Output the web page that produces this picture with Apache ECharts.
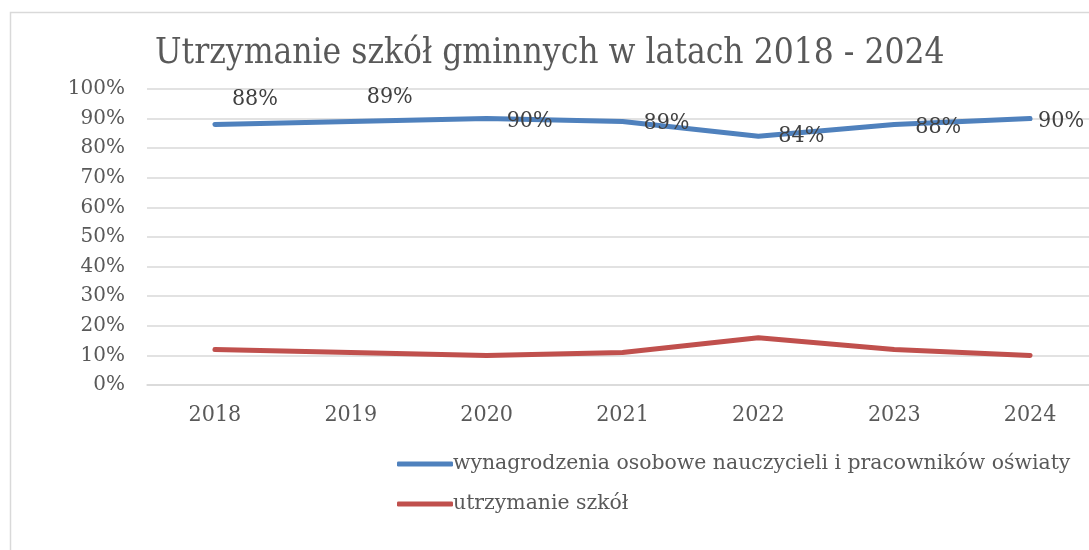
<!DOCTYPE html>
<html>
<head>
<meta charset="utf-8">
<script src="https://cdn.jsdelivr.net/npm/echarts@6/dist/echarts.min.js"></script>
<style>
html,body{margin:0;padding:0;background:#fff;overflow:hidden;width:1089px;height:550px;}
#chart{width:1100px;height:550px;}
</style>
</head>
<body>
<div id="chart"></div>
<script>
// ---- data ----
const categories = ['2018', '2019', '2020', '2021', '2022', '2023', '2024'];
const salaries = [0.88, 0.89, 0.90, 0.89, 0.84, 0.88, 0.90];
const maintenance = [0.12, 0.11, 0.10, 0.11, 0.16, 0.12, 0.10];
const seriesNames = ['wynagrodzenia osobowe nauczycieli i pracowników oświaty', 'utrzymanie szkół'];
const titleText = 'Utrzymanie szkół gminnych w latach 2018 - 2024';

// ---- style (label offsets per point, pixels) ----
const labelOffsets = [[40, -25], [39, -25], [43, 2], [44, 1], [43, 0], [44, 3], [31, 2]];
const FONT = 'DejaVu Serif';
const FONTC = '"DejaVu Serif Condensed", "DejaVu Serif"';
const TXT = '#595959';

const chart = echarts.init(document.getElementById('chart'), null, {renderer: 'canvas'});
const pct = v => Math.round(v * 100) + '%';

chart.setOption({
  backgroundColor: '#fff',
  animation: false,
  graphic: [{
    type: 'rect', left: 8, top: 10, silent: true,
    shape: {width: 1200, height: 700},
    style: {fill: 'none', stroke: '#d9d9d9', lineWidth: 1.5}
  }],
  title: {
    text: titleText, left: 150, top: 31,
    textStyle: {fontFamily: FONTC, fontWeight: 'normal', fontSize: 35, color: TXT}
  },
  grid: {left: 147, top: 89, right: 2, bottom: 165},
  legend: {
    orient: 'vertical', left: 392, top: 449,
    icon: 'roundRect', itemWidth: 56, itemHeight: 5, itemGap: 20,
    textStyle: {fontFamily: FONT, fontSize: 20.4, color: TXT, padding: [0, 0, 0, -5]},
    data: seriesNames
  },
  xAxis: {
    type: 'category', data: categories, boundaryGap: true,
    axisLine: {show: true, lineStyle: {color: '#d9d9d9', width: 1.5}},
    axisTick: {show: false},
    axisLabel: {fontFamily: FONTC, fontSize: 23, color: TXT, margin: 19}
  },
  yAxis: {
    type: 'value', min: 0, max: 1, interval: 0.1,
    axisLine: {show: false}, axisTick: {show: false},
    splitLine: {lineStyle: {color: '#d9d9d9', width: 1.5}},
    axisLabel: {fontFamily: FONT, fontSize: 20, color: TXT, margin: 22, formatter: pct}
  },
  series: [{
    name: seriesNames[0], type: 'line', data: salaries,
    symbol: 'circle', symbolSize: 1, showSymbol: true,
    itemStyle: {color: '#4F81BD'},
    lineStyle: {color: '#4F81BD', width: 5, cap: 'round', join: 'round'},
    label: {
      show: true, position: 'inside', color: '#404040',
      fontFamily: FONTC, fontSize: 23,
      formatter: p => pct(p.value)
    },
    labelLayout: p => ({dx: labelOffsets[p.dataIndex][0], dy: labelOffsets[p.dataIndex][1]}),
    z: 3
  }, {
    name: seriesNames[1], type: 'line', data: maintenance,
    symbol: 'circle', symbolSize: 1, showSymbol: false,
    itemStyle: {color: '#C0504D'},
    lineStyle: {color: '#C0504D', width: 5, cap: 'round', join: 'round'},
    z: 2
  }]
});
</script>
</body>
</html>
